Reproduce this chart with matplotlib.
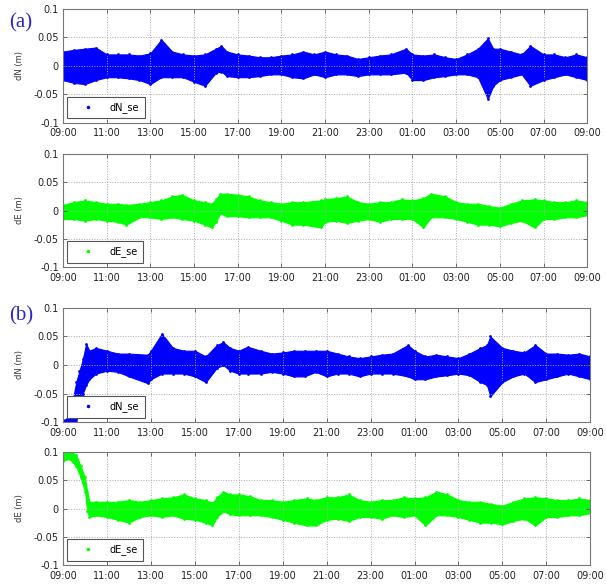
import matplotlib.pyplot as plt
from matplotlib.lines import Line2D

# hours since 09:00, tick labels
tick_hours = [0, 2, 4, 6, 8, 10, 12, 14, 16, 18, 20, 22, 24]
tick_labels = ['09:00', '11:00', '13:00', '15:00', '17:00', '19:00', '21:00',
               '23:00', '01:00', '03:00', '05:00', '07:00', '09:00']

# (a) dN envelope
a_dn_t = [0, 0.5, 1, 1.5, 2, 2.5, 3, 3.5, 4, 4.5, 5, 5.5, 6, 6.5, 7, 7.25, 7.5, 8,
          8.5, 9, 9.5, 10, 10.5, 11, 11.5, 12, 12.5, 13, 13.5, 14, 14.5, 15, 15.7,
          16, 16.5, 17, 17.5, 18, 18.5, 19, 19.45, 19.7, 20, 20.5, 21, 21.4, 22,
          22.5, 23, 23.5, 24]
a_dn_hi = [0.025, 0.028, 0.03, 0.032, 0.02, 0.02, 0.02, 0.018, 0.022, 0.046, 0.025,
           0.02, 0.018, 0.02, 0.03, 0.035, 0.025, 0.02, 0.018, 0.015, 0.015, 0.018,
           0.02, 0.025, 0.02, 0.025, 0.02, 0.018, 0.012, 0.015, 0.018, 0.02, 0.03,
           0.02, 0.018, 0.02, 0.015, 0.012, 0.02, 0.03, 0.048, 0.03, 0.03, 0.025,
           0.02, 0.035, 0.02, 0.02, 0.015, 0.02, 0.015]
a_dn_lo = [-0.025, -0.03, -0.032, -0.025, -0.02, -0.02, -0.022, -0.025, -0.032, -0.02,
           -0.02, -0.02, -0.028, -0.035, -0.012, -0.01, -0.018, -0.02, -0.02, -0.018,
           -0.015, -0.015, -0.02, -0.022, -0.015, -0.02, -0.015, -0.015, -0.018,
           -0.015, -0.015, -0.015, -0.012, -0.025, -0.025, -0.02, -0.018, -0.015,
           -0.015, -0.02, -0.058, -0.035, -0.025, -0.02, -0.015, -0.035, -0.025,
           -0.02, -0.015, -0.02, -0.025]

# (a) dE envelope
a_de_t = [0, 0.5, 1, 1.5, 2, 2.5, 2.9, 3.5, 4, 4.5, 5, 5.45, 6, 6.5, 6.8, 7, 7.2, 7.5,
          8, 8.5, 9, 9.5, 10, 10.5, 11, 11.8, 12, 12.5, 13, 13.5, 14, 14.5, 15, 15.5,
          16, 16.5, 16.85, 17.5, 18, 18.5, 19, 19.5, 20, 20.5, 21, 21.6, 22, 22.5, 23,
          23.5, 24]
a_de_hi = [0.01, 0.015, 0.018, 0.015, 0.012, 0.012, 0.01, 0.012, 0.015, 0.018, 0.025,
           0.028, 0.018, 0.015, 0.012, 0.02, 0.03, 0.03, 0.028, 0.025, 0.018, 0.015,
           0.012, 0.015, 0.015, 0.018, 0.02, 0.022, 0.025, 0.015, 0.012, 0.015, 0.015,
           0.02, 0.018, 0.022, 0.03, 0.025, 0.015, 0.012, 0.012, 0.008, 0.005, 0.012,
           0.018, 0.02, 0.018, 0.015, 0.015, 0.018, 0.015]
a_de_lo = [-0.015, -0.015, -0.018, -0.015, -0.018, -0.02, -0.025, -0.012, -0.012,
           -0.015, -0.012, -0.015, -0.018, -0.025, -0.03, -0.02, -0.005, -0.01, -0.01,
           -0.012, -0.012, -0.012, -0.018, -0.025, -0.025, -0.03, -0.02, -0.018,
           -0.022, -0.018, -0.015, -0.02, -0.015, -0.015, -0.015, -0.03, -0.012,
           -0.012, -0.015, -0.02, -0.025, -0.025, -0.028, -0.022, -0.018, -0.03,
           -0.015, -0.015, -0.012, -0.012, -0.008]

# (b) dN envelope
b_dn_t = [0.02, 0.3, 0.45, 0.6, 0.75, 0.9, 1.05, 1.2, 1.5, 2, 2.5, 3, 3.86, 4, 4.5, 5,
          5.5, 6, 6.5, 7, 7.3, 7.6, 8, 8.4, 9, 9.5, 10, 10.5, 11, 11.5, 12, 12.5, 13,
          13.5, 14, 14.5, 15, 15.7, 16, 16.5, 17, 17.5, 18, 18.5, 19, 19.3, 19.45, 20,
          20.5, 21, 21.5, 22, 22.5, 23, 23.5, 24]
b_dn_hi = [-0.097, -0.09, -0.06, -0.03, -0.01, 0.01, 0.037, 0.025, 0.03, 0.025, 0.02,
           0.02, 0.018, 0.025, 0.055, 0.03, 0.025, 0.025, 0.015, 0.035, 0.04, 0.03,
           0.025, 0.032, 0.025, 0.02, 0.022, 0.025, 0.025, 0.025, 0.025, 0.02, 0.015,
           0.012, 0.015, 0.018, 0.02, 0.035, 0.025, 0.015, 0.018, 0.015, 0.012, 0.02,
           0.03, 0.035, 0.05, 0.03, 0.025, 0.022, 0.035, 0.02, 0.02, 0.018, 0.02, 0.015]
b_dn_lo = [-0.1, -0.11, -0.11, -0.1, -0.07, -0.05, -0.035, -0.025, -0.015, -0.01,
           -0.012, -0.02, -0.032, -0.025, -0.015, -0.015, -0.015, -0.02, -0.03, -0.005,
           0.0, -0.01, -0.015, -0.015, -0.015, -0.012, -0.015, -0.02, -0.02, -0.012,
           -0.02, -0.015, -0.015, -0.02, -0.015, -0.015, -0.015, -0.02, -0.025, -0.025,
           -0.02, -0.018, -0.015, -0.018, -0.03, -0.035, -0.055, -0.03, -0.02, -0.015,
           -0.03, -0.025, -0.02, -0.015, -0.02, -0.025]

# (b) dE envelope
b_de_t = [0, 0.3, 0.6, 0.8, 1.0, 1.1, 1.2, 1.5, 2, 2.5, 3, 3.5, 4, 4.5, 5, 5.5, 6, 6.5,
          6.8, 7, 7.3, 7.6, 8, 8.5, 9, 9.5, 10, 10.5, 11.1, 11.5, 12, 12.5, 13, 13.5,
          14, 14.5, 15, 15.5, 16, 16.5, 17, 17.5, 18, 18.5, 19, 19.5, 20, 20.5, 21,
          21.5, 22, 22.5, 23, 23.5, 24]
b_de_hi = [0.1, 0.102, 0.095, 0.075, 0.055, 0.03, 0.012, 0.012, 0.012, 0.012, 0.015,
           0.012, 0.015, 0.018, 0.02, 0.025, 0.018, 0.015, 0.01, 0.02, 0.03, 0.025,
           0.025, 0.022, 0.015, 0.015, 0.012, 0.015, 0.018, 0.015, 0.02, 0.02, 0.025,
           0.015, 0.012, 0.015, 0.015, 0.02, 0.018, 0.02, 0.03, 0.025, 0.015, 0.012,
           0.012, 0.008, 0.005, 0.012, 0.018, 0.02, 0.018, 0.015, 0.015, 0.018, 0.015]
b_de_lo = [0.085, 0.088, 0.075, 0.055, 0.03, -0.005, -0.015, -0.012, -0.015, -0.02,
           -0.025, -0.015, -0.012, -0.015, -0.012, -0.018, -0.02, -0.025, -0.03,
           -0.015, -0.005, -0.01, -0.012, -0.012, -0.012, -0.015, -0.02, -0.025, -0.03,
           -0.03, -0.02, -0.018, -0.022, -0.015, -0.015, -0.018, -0.012, -0.015,
           -0.012, -0.03, -0.012, -0.012, -0.015, -0.02, -0.025, -0.025, -0.028,
           -0.022, -0.018, -0.03, -0.015, -0.015, -0.012, -0.012, -0.008]

BLUE = '#0000ff'
GREEN = '#00ff00'

panels = [
    ([0.104, 0.790, 0.865, 0.195], a_dn_t, a_dn_hi, a_dn_lo, BLUE, 'dN_se', 'dN (m)'),
    ([0.104, 0.5436, 0.865, 0.193], a_de_t, a_de_hi, a_de_lo, GREEN, 'dE_se', 'dE (m)'),
    ([0.104, 0.2786, 0.870, 0.195], b_dn_t, b_dn_hi, b_dn_lo, BLUE, 'dN_se', 'dN (m)'),
    ([0.104, 0.0342, 0.870, 0.193], b_de_t, b_de_hi, b_de_lo, GREEN, 'dE_se', 'dE (m)'),
]

fig = plt.figure(figsize=(6.06, 5.85), dpi=100)

for rect, t, hi, lo, col, name, ylab in panels:
    ax = fig.add_axes(rect)
    ax.fill_between(t, lo, hi, color=col, linewidth=0.8, edgecolor=col)
    ax.plot(t, hi, '.', color=col, markersize=2)
    ax.plot(t, lo, '.', color=col, markersize=2)
    ax.set_xlim(0, 24)
    ax.set_ylim(-0.1, 0.1)
    ax.set_xticks(tick_hours)
    ax.set_xticklabels(tick_labels)
    ax.set_yticks([-0.1, -0.05, 0, 0.05, 0.1])
    ax.set_yticklabels(['-0.1', '-0.05', '0', '0.05', '0.1'])
    ax.tick_params(direction='in', top=True, right=True, labelsize=7,
                   length=3, width=0.6, color='#555555', labelcolor='#222222')
    ax.tick_params(axis='x', pad=4)
    ax.tick_params(axis='y', pad=3)
    ax.grid(True, linestyle=':', color='#aaaaaa', linewidth=0.7)
    for s in ax.spines.values():
        s.set_color('#777777')
        s.set_linewidth(0.8)
    ax.set_ylabel(ylab, fontsize=6, labelpad=7, color='#333333')
    h = Line2D([], [], linestyle='none', marker='.', markersize=3, color=col)
    leg = ax.legend([h], [name], loc='lower left', fontsize=7, fancybox=False,
                    edgecolor='#555555', framealpha=1, handlelength=3.2,
                    borderaxespad=0.45, borderpad=0.55, handletextpad=0.6)
    leg.get_frame().set_linewidth(0.8)

fig.text(0.015, 0.978, '(a)', family='Liberation Serif', fontsize=15,
         color='#2828d8', va='top')
fig.text(0.015, 0.476, '(b)', family='Liberation Serif', fontsize=15,
         color='#2828d8', va='top')

fig.savefig('out.png', dpi=100)
